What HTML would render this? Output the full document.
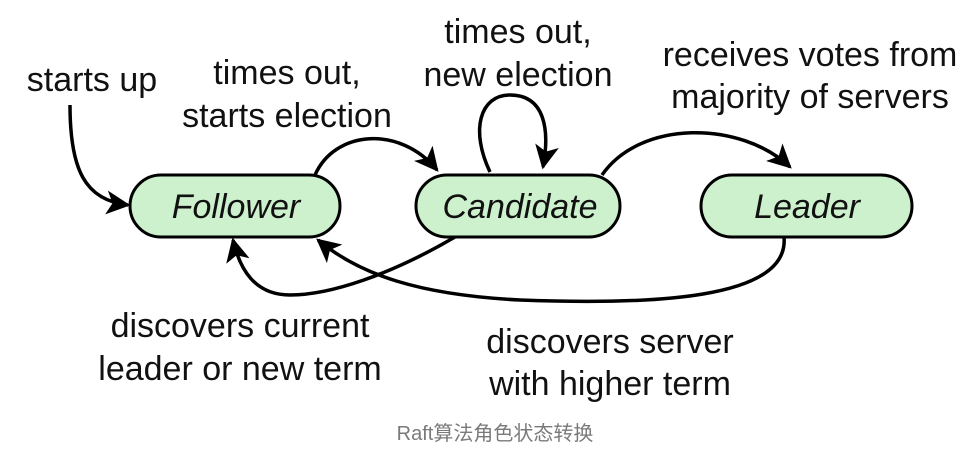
<!DOCTYPE html>
<html><head><meta charset="utf-8"><style>
body{margin:0;background:#fff;}
svg text{font-family:"Liberation Sans","Noto Sans CJK SC",sans-serif;}
</style></head><body>
<svg width="976" height="463" viewBox="0 0 976 463" xmlns="http://www.w3.org/2000/svg">
<defs>
<marker id="ar" viewBox="0 0 10 10" refX="9" refY="5" markerWidth="24" markerHeight="24" orient="auto" markerUnits="userSpaceOnUse"><path d="M0,0 L10,5 L0,10 L2.5,5 Z" fill="#000"/></marker></defs>
<g fill="#cdf0cd" stroke="#000" stroke-width="3">
<rect x="130" y="175" width="210" height="62" rx="31"/>
<rect x="416" y="175" width="204" height="62" rx="31"/>
<rect x="701" y="175" width="211" height="62" rx="31"/>
</g>
<g fill="none" stroke="#000" stroke-width="3.5" marker-end="url(#ar)">
<path d="M70,105 C70,170 85,200 128,205"/>
<path d="M315,175 C335,130 400,125 437,170"/>
<path d="M490,172 C470,130 480,95 510,95 C545,95 550,130 543,167"/>
<path d="M602,175 C640,120 740,120 790,167"/>
<path d="M455,237 C390,275 330,295 290,295 C255,295 240,270 233,240"/>
<path d="M784,237 C790,300 650,305 520,300 C420,295 360,275 318,240"/>
</g>
<g font-size="34" fill="#111" text-anchor="middle">
<text x="236" y="218" font-style="italic">Follower</text>
<text x="520" y="218" font-style="italic">Candidate</text>
<text x="807" y="218" font-style="italic">Leader</text>
<text x="92" y="91">starts up</text>
<text x="287" y="84">times out,</text>
<text x="287" y="127">starts election</text>
<text x="518" y="43">times out,</text>
<text x="518" y="86">new election</text>
<text x="810" y="66">receives votes from</text>
<text x="810" y="108">majority of servers</text>
<text x="240" y="337">discovers current</text>
<text x="240" y="380">leader or new term</text>
<text x="610" y="353">discovers server</text>
<text x="610" y="395">with higher term</text>
</g>
<text x="495" y="440" font-size="20" fill="#7a7a7a" text-anchor="middle">Raft算法角色状态转换</text>
</svg>
</body></html>
